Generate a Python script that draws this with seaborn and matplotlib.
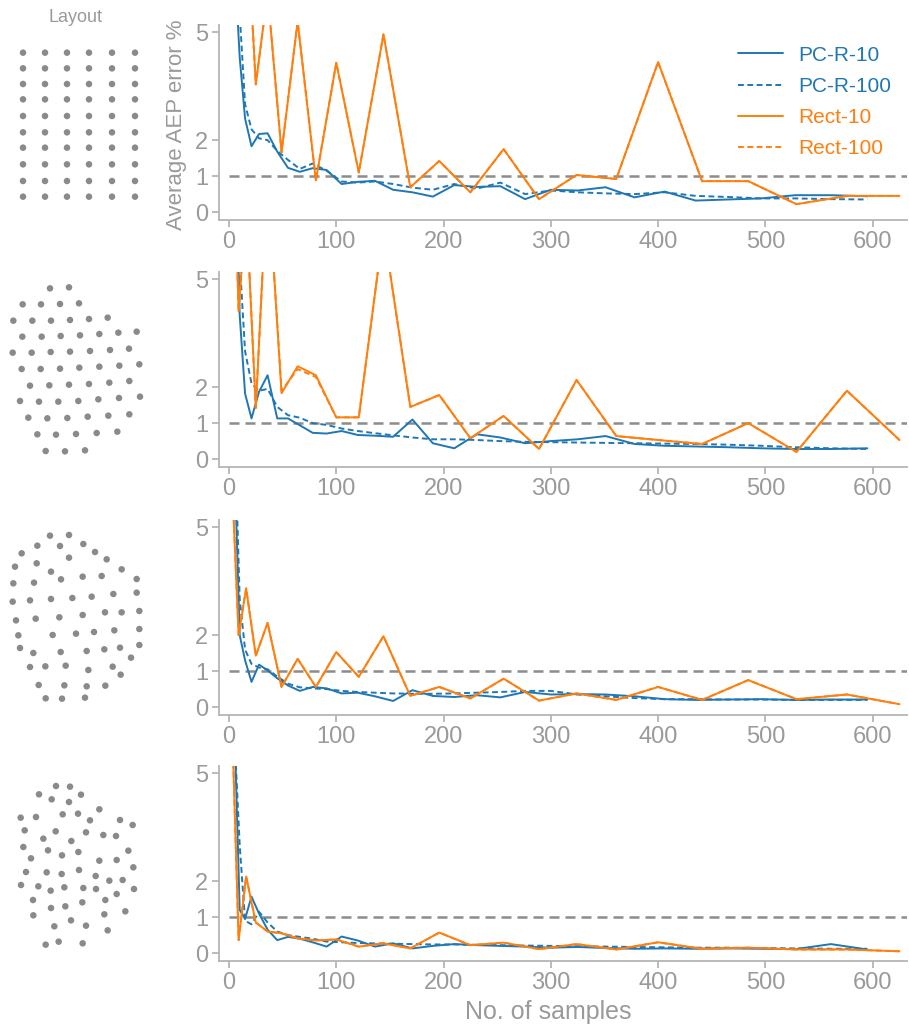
import numpy as np
import pandas as pd
import matplotlib
matplotlib.use("Agg")
import matplotlib.pyplot as plt
import seaborn as sns

# ---------------- data ----------------
RECT_N = [4, 9, 16, 25, 36, 49, 64, 81, 100, 121, 144, 169, 196, 225, 256, 289,
          324, 361, 400, 441, 484, 529, 576, 625]
PCR_N = [6, 10, 15, 21, 28, 36, 45, 55, 66, 78, 91, 105, 120, 136, 153, 171, 190,
         210, 231, 253, 276, 300, 325, 351, 378, 406, 435, 465, 496, 528, 561, 595]

# panel 1 (rectangular layout)
pcr10_p1 = [6.5, 4.3, 2.6, 1.83, 2.17, 2.19, 1.68, 1.23, 1.12, 1.22, 1.17, 0.78, 0.84, 0.87,
            0.62, 0.55, 0.43, 0.75, 0.7, 0.72, 0.36, 0.62, 0.6, 0.69, 0.41, 0.57, 0.32, 0.35,
            0.38, 0.47, 0.47, 0.44]
pcr100_p1 = [8.0, 5.5, 3.0, 2.3, 2.05, 2.0, 1.7, 1.45, 1.2, 1.35, 1.15, 0.85, 0.82, 0.85,
             0.78, 0.68, 0.62, 0.78, 0.65, 0.82, 0.5, 0.6, 0.55, 0.52, 0.5, 0.55, 0.45, 0.42,
             0.38, 0.38, 0.36, 0.35]
rect10_p1 = [9.0, 8.0, 8.5, 3.55, 6.1, 1.66, 5.3, 0.88, 4.15, 1.1, 4.94, 0.69, 1.42, 0.55,
             1.75, 0.36, 1.03, 0.92, 4.17, 0.86, 0.86, 0.22, 0.45, 0.45]
rect100_p1 = [9.0, 8.0, 8.5, 3.55, 6.1, 1.66, 5.3, 0.88, 4.15, 1.1, 4.94, 0.69, 1.42, 0.55,
              1.75, 0.36, 1.03, 0.92, 4.17, 0.86, 0.86, 0.22, 0.45, 0.45]

# panel 2
pcr10_p2 = [9.0, 4.0, 1.82, 1.13, 1.87, 2.33, 1.13, 1.13, 0.94, 0.73, 0.71, 0.78, 0.67, 0.65,
            0.62, 1.1, 0.44, 0.3, 0.69, 0.6, 0.44, 0.5, 0.55, 0.64, 0.42, 0.37, 0.35, 0.33,
            0.3, 0.28, 0.28, 0.3]
pcr100_p2 = [9.0, 5.5, 3.0, 2.1, 1.9, 1.95, 1.45, 1.22, 1.15, 1.0, 0.95, 0.85, 0.78, 0.72,
             0.66, 0.6, 0.55, 0.55, 0.53, 0.5, 0.48, 0.47, 0.46, 0.45, 0.44, 0.43, 0.42, 0.4,
             0.37, 0.33, 0.3, 0.28]
rect10_p2 = [9.0, 4.1, 7.1, 1.42, 8.0, 1.83, 2.58, 2.33, 1.16, 1.16, 6.4, 1.45, 1.78, 0.58,
             1.2, 0.28, 2.2, 0.64, 0.53, 0.42, 1.0, 0.2, 1.9, 0.53]
rect100_p2 = [9.0, 4.1, 7.1, 1.42, 8.0, 1.9, 2.5, 2.28, 1.16, 1.16, 6.4, 1.45, 1.78, 0.58,
              1.2, 0.28, 2.2, 0.64, 0.53, 0.42, 1.0, 0.2, 1.9, 0.53]

# panel 3
pcr10_p3 = [6.0, 2.0, 1.3, 0.7, 1.18, 1.02, 0.8, 0.6, 0.45, 0.56, 0.52, 0.38, 0.4, 0.3,
            0.17, 0.47, 0.31, 0.28, 0.33, 0.27, 0.42, 0.35, 0.36, 0.35, 0.3, 0.22, 0.2, 0.21,
            0.22, 0.2, 0.21, 0.21]
pcr100_p3 = [7.0, 3.0, 1.6, 1.2, 1.1, 1.05, 0.85, 0.65, 0.55, 0.52, 0.5, 0.45, 0.42, 0.4,
             0.38, 0.37, 0.37, 0.38, 0.4, 0.42, 0.45, 0.45, 0.35, 0.3, 0.25, 0.22, 0.22, 0.21,
             0.21, 0.2, 0.2, 0.2]
rect10_p3 = [5.5, 2.0, 3.3, 1.43, 2.34, 0.56, 1.34, 0.56, 1.53, 0.84, 1.97, 0.31, 0.56, 0.24,
             0.79, 0.18, 0.38, 0.2, 0.56, 0.2, 0.75, 0.22, 0.35, 0.08]
rect100_p3 = [5.5, 2.0, 3.3, 1.43, 2.34, 0.56, 1.34, 0.56, 1.53, 0.84, 1.97, 0.31, 0.56, 0.24,
              0.79, 0.18, 0.38, 0.2, 0.56, 0.2, 0.75, 0.22, 0.35, 0.08]

# panel 4
pcr10_p4 = [5.4, 1.2, 0.95, 1.57, 1.1, 0.65, 0.36, 0.45, 0.4, 0.3, 0.18, 0.46, 0.35, 0.18,
            0.27, 0.13, 0.2, 0.25, 0.22, 0.2, 0.18, 0.15, 0.17, 0.14, 0.12, 0.13, 0.12, 0.13,
            0.12, 0.11, 0.25, 0.1]
pcr100_p4 = [5.5, 3.0, 0.9, 0.8, 1.15, 0.85, 0.6, 0.5, 0.45, 0.4, 0.32, 0.3, 0.28, 0.27,
             0.26, 0.25, 0.24, 0.24, 0.23, 0.22, 0.21, 0.2, 0.19, 0.18, 0.17, 0.16, 0.15, 0.15,
             0.14, 0.13, 0.12, 0.12]
rect10_p4 = [5.3, 0.36, 2.13, 0.85, 0.6, 0.55, 0.41, 0.35, 0.38, 0.18, 0.27, 0.13, 0.57, 0.22,
             0.29, 0.11, 0.25, 0.1, 0.3, 0.12, 0.15, 0.1, 0.1, 0.05]
rect100_p4 = [5.3, 0.36, 2.13, 0.85, 0.6, 0.55, 0.41, 0.35, 0.38, 0.18, 0.27, 0.13, 0.57, 0.22,
              0.29, 0.11, 0.25, 0.1, 0.3, 0.12, 0.15, 0.1, 0.1, 0.05]

# layouts (turbine positions, layout units)
L1_COLS = [69, 135, 201, 267, 336, 405]
L1_ROWS = [98, 145, 192, 238, 288, 337, 383, 433, 483, 530]
L2_X = [150, 207, 68, 123, 180, 237, 40, 97, 153, 210, 267, 323, 67, 125, 182, 240, 298, 355, 410,
        38, 95, 152, 210, 270, 330, 387, 65, 122, 180, 238, 298, 358, 418, 90, 148, 207, 267, 328,
        388, 60, 117, 175, 235, 295, 357, 420, 85, 142, 202, 263, 325, 388, 112, 168, 228, 290,
        352, 137, 195, 255]
L2_Y = [55, 52, 103, 103, 102, 100, 152, 152, 152, 150, 147, 143, 200, 200, 198, 196, 192, 188, 185,
        248, 248, 246, 245, 243, 240, 236, 297, 297, 296, 293, 290, 287, 283, 347, 346, 344, 342,
        338, 333, 393, 395, 395, 393, 388, 384, 380, 443, 445, 444, 440, 437, 433, 493, 494, 492,
        489, 485, 543, 544, 541]
L3_X = [150, 207, 112, 180, 250, 65, 285, 207, 110, 320, 45, 153, 365, 183, 248, 305, 410, 40, 102,
        410, 340, 38, 90, 153, 217, 275, 418, 365, 315, 248, 178, 107, 48, 418, 343, 282, 228, 158,
        55, 418, 360, 313, 260, 182, 60, 100, 393, 90, 136, 197, 265, 338, 362, 116, 193, 260, 316,
        137, 186, 255]
L3_Y = [47, 45, 77, 78, 72, 100, 96, 113, 130, 118, 140, 155, 148, 178, 170, 168, 177, 190, 188,
        218, 222, 245, 241, 237, 234, 230, 273, 277, 277, 285, 292, 296, 301, 327, 331, 336, 341,
        345, 346, 375, 383, 388, 393, 396, 384, 399, 413, 441, 439, 437, 450, 440, 464, 495, 496,
        499, 497, 535, 536, 533]
L4_X = [168, 210, 117, 155, 243, 207, 298, 62, 108, 188, 234, 270, 360, 398, 74, 167, 258, 310, 348,
        130, 214, 70, 144, 235, 186, 385, 93, 298, 350, 400, 78, 140, 185, 237, 287, 328, 368, 63,
        115, 152, 193, 250, 288, 350, 402, 99, 316, 153, 196, 247, 376, 100, 313, 213, 163, 258,
        323, 137, 176, 248]
L4_Y = [48, 50, 73, 88, 74, 96, 118, 143, 141, 133, 131, 151, 150, 165, 181, 184, 187, 195, 198,
        206, 213, 231, 241, 246, 256, 242, 265, 272, 270, 292, 306, 307, 312, 300, 318, 332, 330,
        345, 349, 362, 352, 354, 357, 372, 357, 390, 390, 414, 409, 397, 424, 436, 433, 451, 469,
        467, 481, 524, 515, 520]

METHODS = ["PC-R-10", "PC-R-100", "Rect-10", "Rect-100"]
BLUE = "#1f77b4"
ORANGE = "#ff7f0e"
PALETTE = {"PC-R-10": BLUE, "PC-R-100": BLUE, "Rect-10": ORANGE, "Rect-100": ORANGE}
DASHES = {"PC-R-10": "", "PC-R-100": (3, 1.8), "Rect-10": "", "Rect-100": (3, 1.8)}
Y_TICKS = [0, 1, 2, 5]
X_TICKS = [0, 100, 200, 300, 400, 500, 600]

# ---------------- style ----------------
sns.set_style("white")
plt.rcParams["font.family"] = ["Liberation Sans", "DejaVu Sans"]
GRAY_TXT = "#9a9a9a"
GRAY_SPINE = "#b5b5b5"

W, H = 909, 1025
fig = plt.figure(figsize=(W / 100, H / 100), dpi=100)


def fig_rect(left, top, right, bottom):
    return [left / W, 1 - bottom / H, (right - left) / W, (bottom - top) / H]


def panel_df(p10, p100, r10, r100):
    frames = []
    for name, xs, ys in [("PC-R-10", PCR_N, p10), ("PC-R-100", PCR_N, p100),
                         ("Rect-10", RECT_N, r10), ("Rect-100", RECT_N, r100)]:
        frames.append(pd.DataFrame({"samples": xs, "error": ys, "method": name}))
    return pd.concat(frames, ignore_index=True)


panels = [
    panel_df(pcr10_p1, pcr100_p1, rect10_p1, rect100_p1),
    panel_df(pcr10_p2, pcr100_p2, rect10_p2, rect100_p2),
    panel_df(pcr10_p3, pcr100_p3, rect10_p3, rect100_p3),
    panel_df(pcr10_p4, pcr100_p4, rect10_p4, rect100_p4),
]

l1x, l1y = np.meshgrid(L1_COLS, L1_ROWS)
layouts = [
    pd.DataFrame({"x": l1x.ravel(), "y": l1y.ravel()}),
    pd.DataFrame({"x": L2_X, "y": L2_Y}),
    pd.DataFrame({"x": L3_X, "y": L3_Y}),
    pd.DataFrame({"x": L4_X, "y": L4_Y}),
]

layout_tops = [20, 270, 520, 770]
panel_tops = [25, 272, 520, 766]
panel_bottoms = [220, 467, 715, 961]

for i in range(4):
    # layout
    lax = fig.add_axes(fig_rect(0, layout_tops[i], 160, layout_tops[i] + 200))
    sns.scatterplot(data=layouts[i], x="x", y="y", color="#8a8a8a", s=22,
                    edgecolor="none", ax=lax, legend=False)
    lax.set_xlim(0, 480)
    lax.set_ylim(600, 0)
    lax.axis("off")

    # error curves
    ax = fig.add_axes(fig_rect(219, panel_tops[i], 907, panel_bottoms[i]))
    ax.axhline(1, xmin=(0 + 9.3) / 641.3, xmax=1.0, color="#8c8c8c", lw=1.8,
               dashes=(4, 2.4), zorder=1)
    sns.lineplot(data=panels[i], x="samples", y="error", hue="method", style="method",
                 hue_order=METHODS, style_order=METHODS, palette=PALETTE, dashes=DASHES,
                 estimator=None, linewidth=1.4, ax=ax, legend=(i == 0))
    ax.set_xlim(-9.3, 632)
    ax.set_ylim(-0.22, 5.2)
    ax.set_yticks(Y_TICKS)
    ax.set_xticks(X_TICKS)
    ax.set_xlabel("")
    ax.set_ylabel("")
    for s in ["top", "right"]:
        ax.spines[s].set_visible(False)
    for s in ["left", "bottom"]:
        ax.spines[s].set_color(GRAY_SPINE)
        ax.spines[s].set_linewidth(1.3)
    ax.tick_params(axis="both", colors=GRAY_SPINE, labelcolor=GRAY_TXT, labelsize=17,
                   length=5, width=1.3, direction="out", left=True, bottom=True, pad=3)
    ax.patch.set_alpha(0)

    if i == 0:
        ax.set_ylabel("Average AEP error %", fontsize=16, color=GRAY_TXT)
        ax.yaxis.set_label_coords(-0.047, 0.49)
        handles, labels = ax.get_legend_handles_labels()
        ax.legend(handles, labels, loc="upper left",
                  bbox_to_anchor=(719 / W, 1 - 27 / H), bbox_transform=fig.transFigure,
                  frameon=False, fontsize=15, handlelength=2.15, handletextpad=0.75,
                  labelspacing=0.58, labelcolor="linecolor")
    if i == 3:
        ax.set_xlabel("No. of samples", fontsize=18, color=GRAY_TXT)
        ax.xaxis.set_label_coords(0.478, -0.2)

fig.text(76 / W, 1 - 17 / H, "Layout", ha="center", va="center", fontsize=13, color=GRAY_TXT)

fig.savefig("out.png", dpi=100)
